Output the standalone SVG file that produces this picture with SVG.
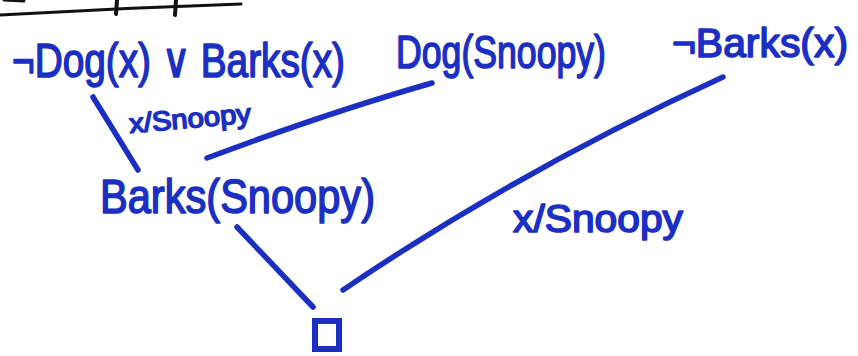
<svg xmlns="http://www.w3.org/2000/svg" width="858" height="356" viewBox="0 0 858 356">
<style>
.t{font-family:"Liberation Sans",Arial,sans-serif;fill:#1b2fc2;stroke:#1b2fc2;stroke-width:1.6;stroke-linejoin:round}
.c{fill:none;stroke:#1b2fc2;stroke-width:5.5;stroke-linecap:round}
</style>
<rect width="858" height="356" fill="#ffffff"/>
<g id="heading-underline">
<path d="M0,15 Q120,8 241,4" fill="none" stroke="#111" stroke-width="3" stroke-linecap="round"/>
<path d="M117,0 L116,14 M176,0 L175,15" fill="none" stroke="#111" stroke-width="4" stroke-linecap="round"/>
<path d="M4,0 L24,1" fill="none" stroke="#111" stroke-width="3" stroke-linecap="round"/>
</g>
<g id="connectors">
<path class="c" d="M93,97 L138,170"/>
<path class="c" d="M432,83 Q330,112 207,158"/>
<path class="c" d="M723,77 Q520,170 343,290"/>
<path class="c" d="M237,227 L313,307"/>
</g>
<g id="clause1"><text class="t" x="12" y="77" font-size="48" textLength="333" lengthAdjust="spacingAndGlyphs">¬Dog(x) ∨ Barks(x)</text></g>
<g id="clause2"><text class="t" x="396" y="68" font-size="46" textLength="210" lengthAdjust="spacingAndGlyphs">Dog(Snoopy)</text></g>
<g id="clause3"><text class="t" x="672" y="57" font-size="40" textLength="176" lengthAdjust="spacingAndGlyphs">¬Barks(x)</text></g>
<g id="label1"><text class="t" x="130" y="133" font-size="27" textLength="122" lengthAdjust="spacingAndGlyphs" transform="rotate(-5 130 133)">x/Snoopy</text></g>
<g id="resolvent"><text class="t" x="100" y="213" font-size="48" textLength="275" lengthAdjust="spacingAndGlyphs">Barks(Snoopy)</text></g>
<g id="label2"><text class="t" x="513" y="232" font-size="38" textLength="170" lengthAdjust="spacingAndGlyphs">x/Snoopy</text></g>
<g id="empty"><rect x="315" y="321" width="24" height="28" fill="none" stroke="#1b2fc2" stroke-width="6"/></g>
</svg>
